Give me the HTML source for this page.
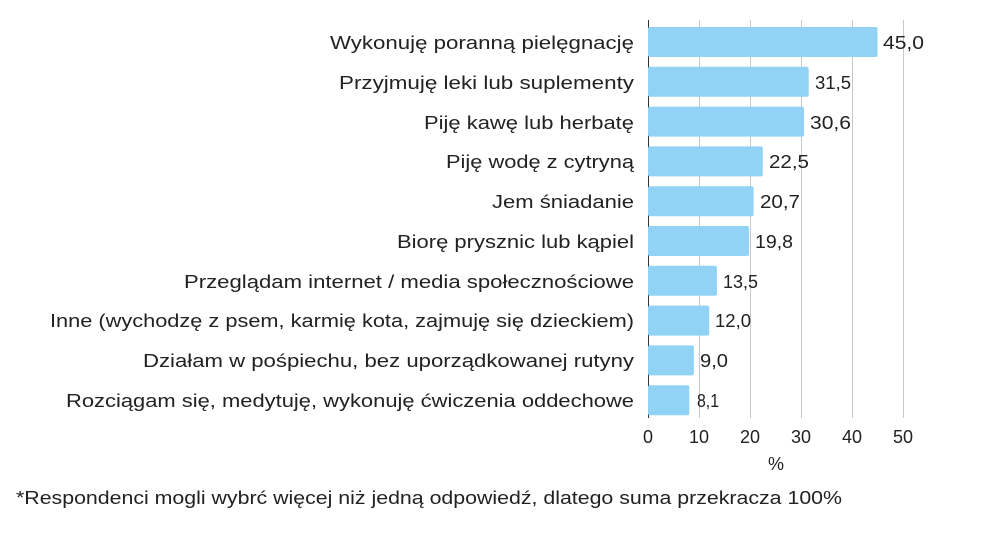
<!DOCTYPE html>
<html><head><meta charset="utf-8"><style>
body{margin:0;background:#fff;width:983px;height:545px;overflow:hidden;font-family:"Liberation Sans",sans-serif;color:#222}
</style></head><body>
<svg width="983" height="545" xmlns="http://www.w3.org/2000/svg" font-family="Liberation Sans, sans-serif" fill="#222">
<g stroke="#c8c8c8" stroke-width="1">
<line x1="699.5" y1="20" x2="699.5" y2="418"/><line x1="750.5" y1="20" x2="750.5" y2="418"/>
<line x1="801.5" y1="20" x2="801.5" y2="418"/><line x1="852.5" y1="20" x2="852.5" y2="418"/>
<line x1="903.5" y1="20" x2="903.5" y2="418"/>
</g>
<line x1="648.5" y1="20" x2="648.5" y2="418" stroke="#333"/>
<g fill="#92d3f5">
<rect x="648" y="27" width="229.5" height="30" rx="2"/>
<rect x="648" y="66.8" width="160.7" height="30" rx="2"/>
<rect x="648" y="106.6" width="156.1" height="30" rx="2"/>
<rect x="648" y="146.4" width="114.8" height="30" rx="2"/>
<rect x="648" y="186.2" width="105.6" height="30" rx="2"/>
<rect x="648" y="226" width="101" height="30" rx="2"/>
<rect x="648" y="265.8" width="68.9" height="30" rx="2"/>
<rect x="648" y="305.6" width="61.2" height="30" rx="2"/>
<rect x="648" y="345.4" width="45.9" height="30" rx="2"/>
<rect x="648" y="385.2" width="41.3" height="30" rx="2"/>
</g>
<g font-size="18" lengthAdjust="spacingAndGlyphs">
<text x="330" y="49" textLength="304" lengthAdjust="spacingAndGlyphs">Wykonuję poranną pielęgnację</text>
<text x="339" y="89" textLength="295" lengthAdjust="spacingAndGlyphs">Przyjmuję leki lub suplementy</text>
<text x="424" y="129" textLength="210" lengthAdjust="spacingAndGlyphs">Piję kawę lub herbatę</text>
<text x="446" y="168" textLength="188" lengthAdjust="spacingAndGlyphs">Piję wodę z cytryną</text>
<text x="492" y="208" textLength="142" lengthAdjust="spacingAndGlyphs">Jem śniadanie</text>
<text x="397" y="248" textLength="237" lengthAdjust="spacingAndGlyphs">Biorę prysznic lub kąpiel</text>
<text x="184" y="288" textLength="450" lengthAdjust="spacingAndGlyphs">Przeglądam internet / media społecznościowe</text>
<text x="50" y="327" textLength="584" lengthAdjust="spacingAndGlyphs">Inne (wychodzę z psem, karmię kota, zajmuję się dzieckiem)</text>
<text x="143" y="367" textLength="491" lengthAdjust="spacingAndGlyphs">Działam w pośpiechu, bez uporządkowanej rutyny</text>
<text x="66" y="407" textLength="568" lengthAdjust="spacingAndGlyphs">Rozciągam się, medytuję, wykonuję ćwiczenia oddechowe</text>
</g>
<g font-size="18">
<text x="883" y="49" textLength="41" lengthAdjust="spacingAndGlyphs">45,0</text>
<text x="815" y="89" textLength="36" lengthAdjust="spacingAndGlyphs">31,5</text>
<text x="810" y="129" textLength="41" lengthAdjust="spacingAndGlyphs">30,6</text>
<text x="769" y="168" textLength="40" lengthAdjust="spacingAndGlyphs">22,5</text>
<text x="760" y="208" textLength="40" lengthAdjust="spacingAndGlyphs">20,7</text>
<text x="755" y="248" textLength="38" lengthAdjust="spacingAndGlyphs">19,8</text>
<text x="723" y="288" textLength="35" lengthAdjust="spacingAndGlyphs">13,5</text>
<text x="715" y="327" textLength="36" lengthAdjust="spacingAndGlyphs">12,0</text>
<text x="700" y="367" textLength="28" lengthAdjust="spacingAndGlyphs">9,0</text>
<text x="697" y="407" textLength="22" lengthAdjust="spacingAndGlyphs">8,1</text>
</g>
<g font-size="18" text-anchor="middle">
<text x="648" y="443">0</text><text x="699" y="443">10</text><text x="750" y="443">20</text>
<text x="801" y="443">30</text><text x="852" y="443">40</text><text x="903" y="443">50</text>
<text x="776" y="470">%</text>
</g>
<text x="16" y="504" font-size="18" textLength="826" lengthAdjust="spacingAndGlyphs">*Respondenci mogli wybrć więcej niż jedną odpowiedź, dlatego suma przekracza 100%</text>
</svg>
</body></html>
